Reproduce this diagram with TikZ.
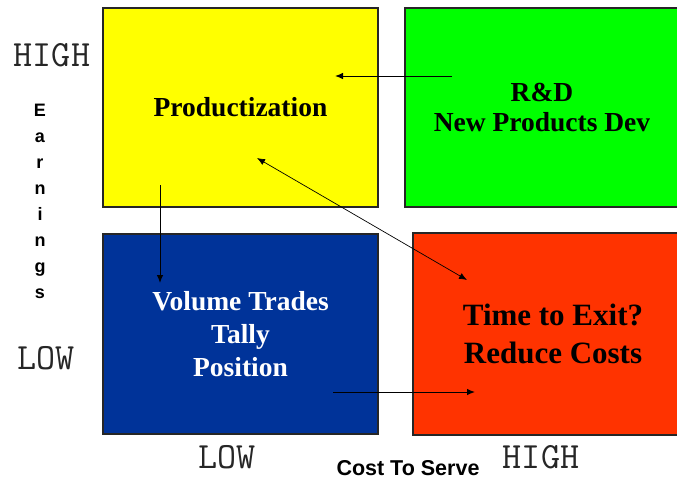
\documentclass[tikz,border=0pt]{standalone}
\usepackage{fontspec}
\setmainfont{Liberation Serif}
\setsansfont{Liberation Sans}
\usetikzlibrary{arrows.meta}
\definecolor{quadyellow}{HTML}{FFFF00}
\definecolor{quadgreen}{HTML}{00FF00}
\definecolor{quadblue}{HTML}{003399}
\definecolor{quadred}{HTML}{FF3300}

\tikzset{
  quad/.style={draw=black!85, line width=1.2pt, inner sep=0pt, align=center,
    font=\bfseries\fontsize{27.5}{30}\selectfont},
  axis/.style={font=\ttfamily\fontsize{37}{37}\selectfont, text=black!85},
  flow/.style={->, >={Latex[length=8pt,width=6.5pt]}, line width=1pt},
}

\begin{document}
\begin{tikzpicture}[x=1pt,y=-1pt]
        \useasboundingbox (0,0) rectangle (677,479);
        \clip (0,0) rectangle (677,479);
        \node[quad, fill=quadyellow, minimum width=275pt, minimum height=199pt] (P) at (240.5,107.5) {Productization};
        \node[quad, fill=quadgreen, minimum width=274pt, minimum height=199pt] (R) at (542,107.5) {R\&D\\New Products Dev};
        \node[quad, fill=quadblue, text=white, minimum width=275pt, minimum height=200pt,
              font=\bfseries\fontsize{27.5}{33}\selectfont] (V) at (240.5,334) {Volume Trades\\Tally\\Position};
        \node[quad, fill=quadred, minimum width=280pt, minimum height=202pt,
              font=\bfseries\fontsize{31}{38}\selectfont] (T) at (553,334) {Time to Exit?\\Reduce Costs};
        \coordinate (rdA) at (452,76);
        \coordinate (prA) at (335,76);
        \coordinate (prB) at (160,185);
        \coordinate (prC) at (257,158);
        \coordinate (voA) at (160,283);
        \coordinate (voB) at (333,392);
        \coordinate (tiA) at (475,392);
        \coordinate (tiB) at (467,280);
        \path[flow]
            (rdA) edge (prA)
            (prB) edge (voA)
            (voB) edge (tiA)
            (tiB) edge [<->, line width=0.7pt] (prC)
            ;
        \node[axis] (hiE) at (52,55)  {HIGH};
        \node[axis] (loE) at (46,358) {LOW};
        \node[axis] (loC) at (227,457) {LOW};
        \node[axis] (hiC) at (541,457) {HIGH};
        \node[font=\sffamily\bfseries\fontsize{21.5}{21.5}\selectfont] (cost) at (408,468) {Cost To Serve};
        \foreach \l [count=\i] in {E,a,r,n,i,n,g,s}
            \node[font=\sffamily\bfseries\fontsize{18}{18}\selectfont, anchor=base] (earn\i) at (40,90+26*\i) {\l};
    \end{tikzpicture}
\end{document}
